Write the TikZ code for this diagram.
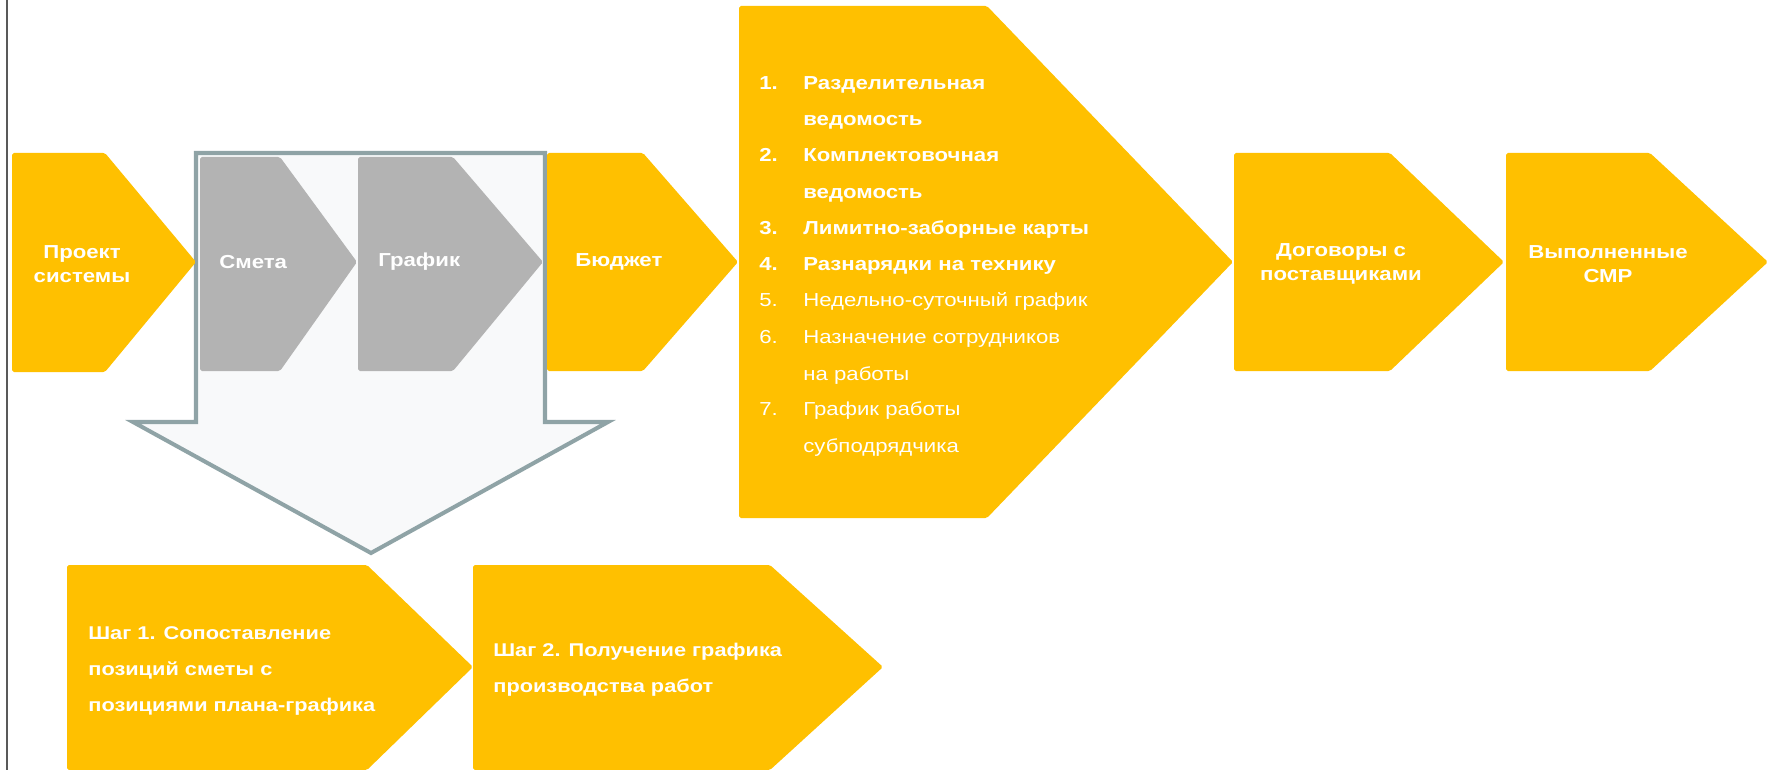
\documentclass[tikz,border=0pt]{standalone}
\usepackage{fontspec}
\setmainfont{Liberation Sans}[FakeStretch=1.18]
\usepackage{xcolor}
\definecolor{chevyellow}{HTML}{FFC000}
\definecolor{chevgray}{HTML}{B3B3B3}
\definecolor{framegray}{HTML}{8FA3A6}
\definecolor{framefill}{HTML}{F8F9FA}

\begin{document}
\begin{tikzpicture}
    	[x=0.02cm, y=-0.02cm,
    	 yel/.style={fill=chevyellow, rounded corners=1pt},
    	 gry/.style={fill=chevgray, rounded corners=1pt},
    	 lbl/.style={text=white, inner sep=0pt, font=\fontsize{10.7}{13.8}\selectfont\bfseries, align=center},
    	 itm/.style={text=white, inner sep=0pt, anchor=base west, font=\fontsize{10.7}{13.8}\selectfont\bfseries},
    	 itmr/.style={text=white, inner sep=0pt, anchor=base west, font=\fontsize{10.7}{13.8}\selectfont},
    	 step lbl/.style={text=white, inner sep=0pt, anchor=west, align=left, font=\fontsize{10.5}{20.4}\selectfont\bfseries}]
    	\useasboundingbox (0,0) rectangle (1769,770);
    	\draw[line width=0.9pt, black!65] (7,0) -- (7,770);

    	% big hollow arrow behind the grey steps
    	\draw[line width=2.3pt, framegray, fill=framefill, line join=miter]
    	    (196,153) -- (545,153) -- (545,422) -- (608,422) -- (371,553)
    	    -- (133,422) -- (196,422) -- cycle;

    	% upper row
    	\fill[yel] (12,153) -- (105,153) -- (196,262) -- (105,372) -- (12,372) -- cycle;
    	\fill[gry] (200,157) -- (280,157) -- (357,262) -- (280,371) -- (200,371) -- cycle;
    	\fill[gry] (358,157) -- (453,157) -- (543,262) -- (453,371) -- (358,371) -- cycle;
    	\fill[yel] (547,153) -- (643,153) -- (738,262) -- (643,371) -- (547,371) -- cycle;
    	\fill[yel] (739,6) -- (987,6) -- (1233,262) -- (987,518) -- (739,518) -- cycle;
    	\fill[yel] (1234,153) -- (1390,153) -- (1504,262) -- (1390,371) -- (1234,371) -- cycle;
    	\fill[yel] (1506,153) -- (1650,153) -- (1768,262) -- (1650,371) -- (1506,371) -- cycle;

    	% lower row
    	\fill[yel] (67,565) -- (367,565) -- (473,667) -- (367,770) -- (67,770) -- cycle;
    	\fill[yel] (473,565) -- (770,565) -- (883,667) -- (770,770) -- (473,770) -- cycle;

    	\node (proj) at (82,264) [lbl] {Проект\\системы};
    	\node (smeta) at (219,262) [lbl, anchor=west] {Смета};
    	\node (graf) at (378,262) [lbl, anchor=west] {График};
    	\node (budg) at (575,262) [lbl, anchor=west] {Бюджет};
    	\node (dog) at (1341,264) [lbl] {Договоры с\\поставщиками};
    	\node (smr) at (1608,264) [lbl] {Выполненные\\СМР};

    	\node (n1) at (759,90) [itm] {1.};
    	\node (t1) at (803,90) [itm] {Разделительная};
    	\node (t1b) at (803,126) [itm] {ведомость};
    	\node (n2) at (759,162) [itm] {2.};
    	\node (t2) at (803,162) [itm] {Комплектовочная};
    	\node (t2b) at (803,199) [itm] {ведомость};
    	\node (n3) at (759,235) [itm] {3.};
    	\node (t3) at (803,235) [itm] {Лимитно-заборные карты};
    	\node (n4) at (759,271) [itm] {4.};
    	\node (t4) at (803,271) [itm] {Разнарядки на технику};
    	\node (n5) at (759,307) [itmr] {5.};
    	\node (t5) at (803,307) [itmr] {Недельно-суточный график};
    	\node (n6) at (759,343) [itmr] {6.};
    	\node (t6) at (803,343) [itmr] {Назначение сотрудников};
    	\node (t6b) at (803,380) [itmr] {на работы};
    	\node (n7) at (759,416) [itmr] {7.};
    	\node (t7) at (803,416) [itmr] {График работы};
    	\node (t7b) at (803,452) [itmr] {субподрядчика};

    	\node (shag1) at (88,671) [step lbl] {Шаг 1. Сопоставление\\позиций сметы с\\позициями плана-графика};
    	\node (shag2) at (493,670) [step lbl] {Шаг 2. Получение графика\\производства работ};
\end{tikzpicture}
\end{document}
